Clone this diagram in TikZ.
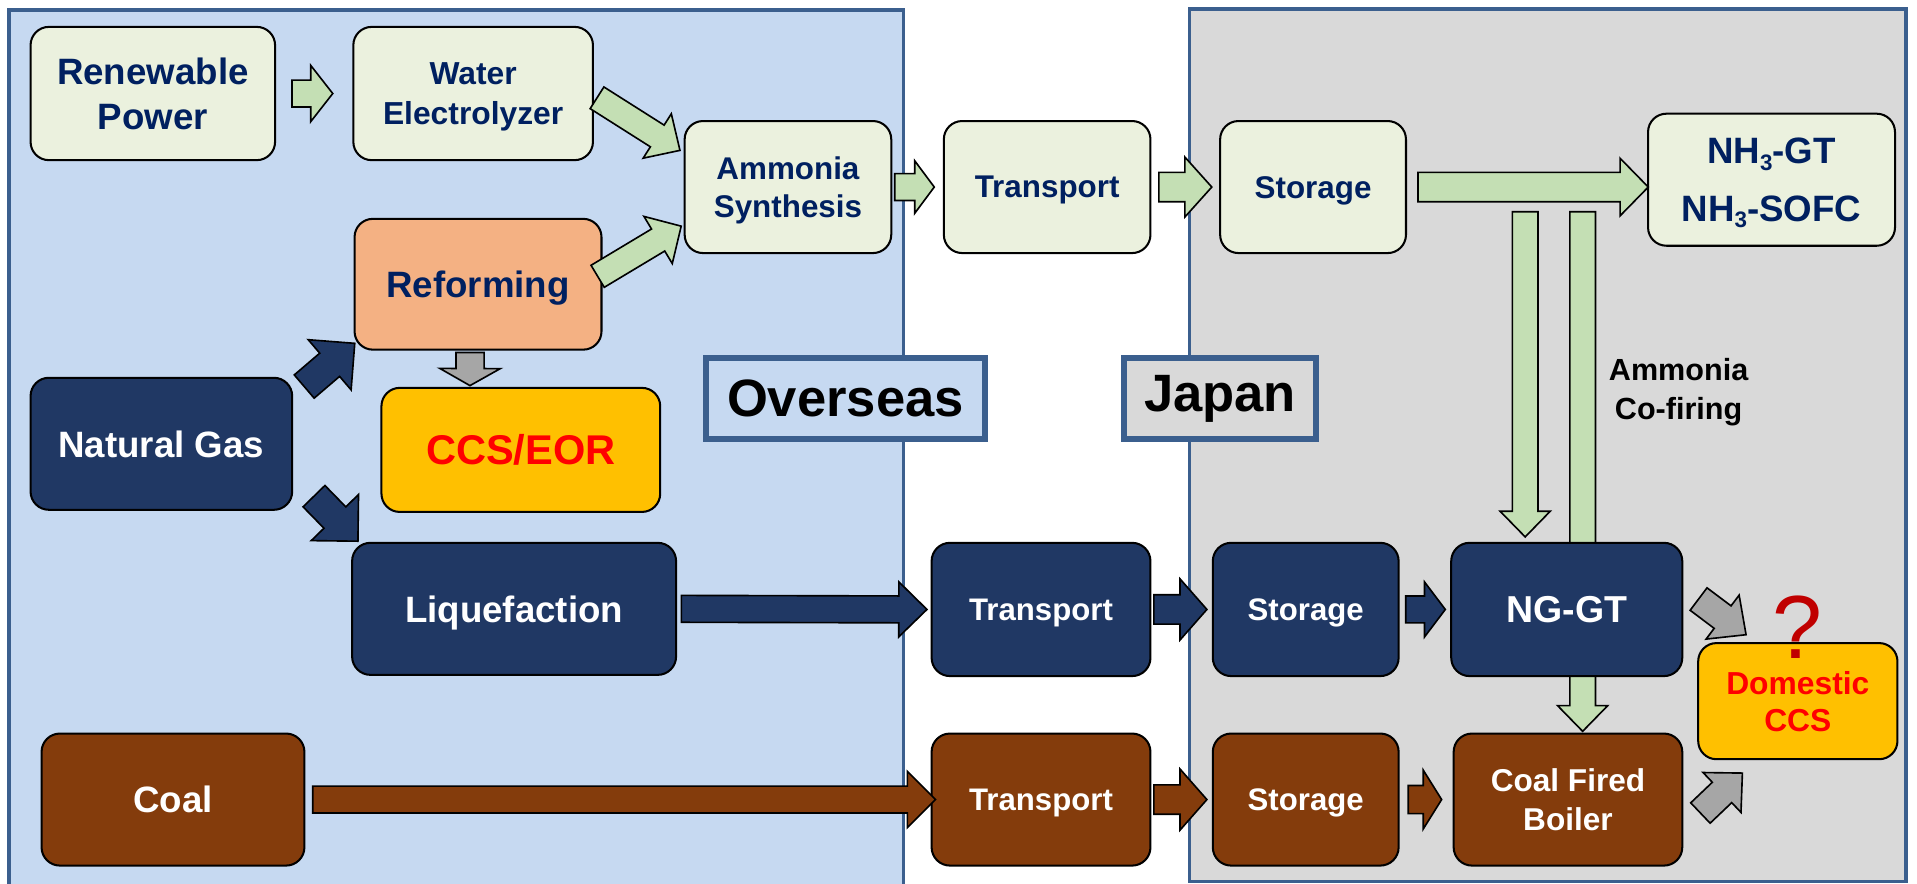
\documentclass[tikz,border=0pt]{standalone}
\usepackage{fontspec}
\setmainfont{Liberation Sans}
\usetikzlibrary{calc}
\definecolor{panelblue}{HTML}{C6D9F1}
\definecolor{panelgray}{HTML}{D9D9D9}
\definecolor{steel}{HTML}{3B5F8E}
\definecolor{lgreen}{HTML}{EBF1DE}
\definecolor{agreen}{HTML}{C4DFB4}
\definecolor{navy}{HTML}{203864}
\definecolor{navytext}{HTML}{002060}
\definecolor{brownc}{HTML}{843C0C}
\definecolor{peach}{HTML}{F4B183}
\definecolor{gold}{HTML}{FFC000}
\definecolor{agray}{HTML}{A6A6A6}
\definecolor{qred}{HTML}{C00000}
\pgfdeclarelayer{panels}
\pgfdeclarelayer{under}
\pgfsetlayers{panels,under,main}
\newcommand\fs[2]{\fontsize{#1}{#2}\selectfont}
\newcommand\subthree{\raisebox{-0.35ex}{\fontsize{11pt}{11pt}\selectfont 3}}
% block arrow: style, tail, tip, shaft width, head width, head length (px units)
\newcommand\barrow[6]{%
  \coordinate (bA) at (#2);
  \coordinate (bB) at (#3);
  \coordinate (bH) at ($(bB)!#6*0.6pt!(bA)$);
  \draw[#1] ($(bA)!#4*0.3pt!90:(bB)$) -- ($(bH)!#4*0.3pt!90:(bB)$) -- ($(bH)!#5*0.3pt!90:(bB)$) -- (bB) -- ($(bH)!#5*0.3pt!-90:(bB)$) -- ($(bH)!#4*0.3pt!-90:(bB)$) -- ($(bA)!#4*0.3pt!-90:(bB)$) -- cycle;}
\tikzset{
  box/.style={draw=black, line width=1pt, rounded corners=9pt, align=center, inner sep=2pt, text depth=0pt},
  gbox/.style={box, fill=lgreen, text=navytext},
  nbox/.style={box, fill=navy, text=white},
  bbox/.style={box, fill=brownc, text=white},
  ybox/.style={box, fill=gold, text=red},
  obox/.style={box, fill=peach, text=navytext},
  arr/.style={draw=black, line width=0.8pt, line join=miter},
  garr/.style={arr, fill=agreen},
  narr/.style={arr, fill=navy},
  barr/.style={arr, fill=brownc},
  gyarr/.style={arr, fill=agray},
  panel/.style={draw=steel, line width=1.8pt},
  label/.style={draw=steel, line width=3pt, minimum height=40pt, font=\bfseries\fs{25.8pt}{30pt}, text=black}
}
\begin{document}
\begin{tikzpicture}[x=0.6pt, y=-0.6pt]
\useasboundingbox (0,0) rectangle (1568,723);
\begin{pgfonlayer}{panels}
  \fill[white] (0,0) rectangle (1568,723);
  \draw[panel, fill=panelblue] (7.5,8) rectangle (739,735);
  \draw[panel, fill=panelgray] (973,7.5) rectangle (1559,721);
\end{pgfonlayer}

% nodes
\node[gbox, minimum width=120pt, minimum height=65.4pt, font=\bfseries\fs{18pt}{21.9pt}] (ren) at (125,76.5) {Renewable\\Power};
\node[gbox, minimum width=117.6pt, minimum height=65.4pt, font=\bfseries\fs{15.6pt}{19.8pt}] (wat) at (387,76.5) {Water\\Electrolyzer};
\node[gbox, minimum width=101.4pt, minimum height=64.8pt, font=\bfseries\fs{15.4pt}{18.5pt}] (amm) at (644.5,153) {Ammonia\\Synthesis};
\node[gbox, minimum width=101.4pt, minimum height=64.8pt, font=\bfseries\fs{15.4pt}{18pt}] (tr1) at (856.5,153) {Transport};
\node[gbox, minimum width=91.2pt, minimum height=64.8pt, font=\bfseries\fs{15.4pt}{18pt}] (st1) at (1074,153) {Storage};
\node[gbox, minimum width=121.2pt, minimum height=64.8pt, font=\bfseries\fs{18pt}{28pt}] (nh3) at (1449,147) {NH\subthree-GT\\NH\subthree-SOFC};
\node[obox, minimum width=121.2pt, minimum height=64.2pt, font=\bfseries\fs{18pt}{22pt}] (ref) at (391,232.5) {Reforming};
\node[nbox, minimum width=128.4pt, minimum height=64.8pt, font=\bfseries\fs{18pt}{22pt}] (ng) at (132,363) {Natural Gas};
\node[ybox, minimum width=136.8pt, minimum height=60.9pt, font=\bfseries\fs{20.4pt}{24pt}] (ccs) at (426,368) {CCS/EOR};
\node[nbox, minimum width=159pt, minimum height=64.8pt, font=\bfseries\fs{18pt}{22pt}] (liq) at (420.5,498) {Liquefaction};
\node[nbox, minimum width=107.4pt, minimum height=65.4pt, font=\bfseries\fs{15.3pt}{18pt}] (tr2) at (851.5,498.5) {Transport};
\node[nbox, minimum width=91.2pt, minimum height=65.4pt, font=\bfseries\fs{15.3pt}{18pt}] (st2) at (1068,498.5) {Storage};
\node[nbox, minimum width=113.4pt, minimum height=65.4pt, font=\bfseries\fs{18.4pt}{22pt}] (ngt) at (1281.5,498.5) {NG-GT};
\node[ybox, minimum width=97.8pt, minimum height=57pt, font=\bfseries\fs{15.6pt}{18pt}] (dom) at (1470.5,573.5) {Domestic\\CCS};
\node[bbox, minimum width=129pt, minimum height=64.8pt, font=\bfseries\fs{18pt}{22pt}] (coal) at (141.5,654) {Coal};
\node[bbox, minimum width=107.4pt, minimum height=64.8pt, font=\bfseries\fs{15.3pt}{18pt}] (tr3) at (851.5,654) {Transport};
\node[bbox, minimum width=91.2pt, minimum height=64.8pt, font=\bfseries\fs{15.3pt}{18pt}] (st3) at (1068,654) {Storage};
\node[bbox, minimum width=112.2pt, minimum height=64.8pt, font=\bfseries\fs{15.5pt}{19.2pt}] (cfb) at (1282.5,654) {Coal Fired\\Boiler};

\node[label, fill=panelblue, minimum width=137pt] (ovs) at (691.5,326) {Overseas};
\node[label, fill=panelgray, minimum width=94pt] (jpn) at (998,326) {Japan};
\node[font=\bfseries\fs{15pt}{19.2pt}, align=center, text=black] (cof) at (1373,321) {Ammonia\\Co-firing};
\node[anchor=base, font=\fs{44pt}{48pt}, text=qred, inner sep=0pt] (qm) at (1470.5,539) {?};

% arrows
\barrow{garr}{$(ren.east)+(13,0)$}{$(wat.west)+(-16,0)$}{22}{46}{18}
\barrow{garr}{$(wat.east)+(2.5,3.5)$}{$(amm.west)+(-3,-30)$}{21}{43}{22}
\barrow{garr}{$(ref.east)+(-4,-6.5)$}{$(amm.west)+(-2,32)$}{21}{45}{22}
\barrow{garr}{$(amm.east)+(2,0)$}{$(tr1.west)+(-7,0)$}{22}{43}{16}
\barrow{garr}{$(tr1.east)+(6,0)$}{$(st1.west)+(-6,0)$}{24}{49}{22}
\barrow{garr}{$(st1.east)+(9,0)$}{$(nh3.west |- st1.east)+(1,0)$}{24}{47}{23}
\barrow{garr}{$(ngt.north)+(-34,-270)$}{$(ngt.north)+(-34,-4)$}{21}{41}{21}
\begin{pgfonlayer}{under}
\barrow{garr}{$(ngt.north)+(13,-270)$}{$(cfb.north)+(12,-1)$}{21}{41}{21}
\end{pgfonlayer}
\barrow{narr}{$(ng.north east)+(9,8)$}{$(ref.south west)+(1,-6)$}{25}{54}{27}
\barrow{narr}{$(ng.south east)+(17,-12)$}{$(liq.north west)+(5.6,-0.5)$}{25}{54}{27}
\barrow{gyarr}{$(ref.south)+(-6.5,1.5)$}{$(ccs.north)+(-41.6,-1)$}{23}{49.5}{14}
\barrow{narr}{$(liq.east)+(3.5,0)$}{$(tr2.west)+(-3,0)$}{22}{45}{23}
\barrow{barr}{$(coal.east)+(6,0)$}{$(tr3.west)+(4,0)$}{22}{46}{23}
\barrow{narr}{$(tr2.east)+(2,0)$}{$(st2.west)+(-4,0)$}{24}{50}{22}
\barrow{narr}{$(st2.east)+(5,0)$}{$(ngt.west)+(-4,0)$}{22}{45}{17}
\barrow{barr}{$(tr3.east)+(2,0)$}{$(st3.west)+(-4,0)$}{24}{50}{22}
\barrow{barr}{$(st3.east)+(7,0)$}{$(cfb.west)+(-9,0)$}{23}{48}{15}
\barrow{gyarr}{$(ngt.east)+(12.5,-8.5)$}{$(dom.north west)+(40,-6)$}{23}{45}{24}
\barrow{gyarr}{$(cfb.east)+(14,11)$}{$(dom.south west)+(37,10.5)$}{23}{45}{23}
\end{tikzpicture}
\end{document}
